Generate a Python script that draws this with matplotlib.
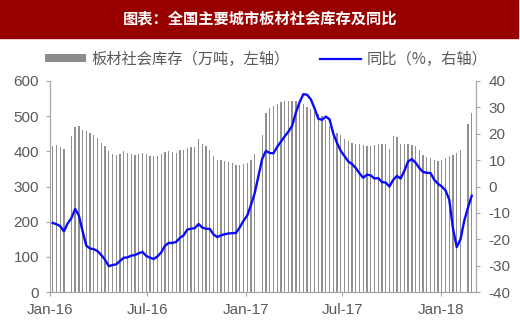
import numpy as np
import pandas as pd
import matplotlib
matplotlib.use('Agg')
import matplotlib.pyplot as plt
import matplotlib.dates as mdates
from matplotlib.patches import Patch, Rectangle
from matplotlib.lines import Line2D

plt.rcParams['font.family'] = ['Liberation Sans', 'Noto Sans CJK SC']
plt.rcParams['axes.unicode_minus'] = False

# tygodniowe dane, luki = brak notowan (swieta)
kucun = [416, 418, 411, 408, np.nan, 445, 470, 472, 462, 457,
         452, 446, 437, 424, 415, 402, 391, 390, 392, 401,
         394, 393, 390, 393, 395, 393, 388, 388, 388, 392,
         398, 401, 398, 394, 405, 404, 410, 411, 411, 434,
         422, 416, 403, 388, 375, 375, 372, 370, 367, 361,
         360, 363, 367, 376, 392, np.nan, 446, 509, 524, 530,
         536, 540, 542, 543, 542, 543, 540, 535, 527, 520,
         512, 505, 500, 488, 472, 462, 452, 446, 435, 428,
         424, 421, 420, 418, 416, 416, 418, 420, 420, 422,
         408, 443, 440, 422, 420, 420, 418, 415, 404, 390,
         385, 382, 375, 372, 376, 382, 386, 390, 394, 405,
         np.nan, 479, 510]

tongbi = [-13.8, -14.3, -15, -17, -14, -12, -8.5, -11, -17, -22.5,
          -23.5, -23.8, -24.5, -26, -27.8, -30.2, -29.8, -29.5, -28.2, -27,
          -26.9, -26.2, -26, -25.3, -24.8, -26.3, -27, -27.5, -26.5, -25,
          -22.5, -21.4, -21.4, -21, -19.5, -18.5, -16.3, -16, -15.8, -14.2,
          -15.6, -16, -16.1, -18.2, -19.2, -18.5, -18.1, -17.8, -17.7, -17.6,
          -15.5, -13, -11, -7, -2.5, 4, 10.5, 13.5, 12.7, 12.6,
          15, 17, 19, 20.8, 23, 28, 32, 35, 34.8, 33,
          29.6, 25.7, 25.3, 26.5, 25.5, 20, 16.5, 13.5, 11.5, 9.5,
          8.5, 7, 5, 3.3, 4.5, 4.2, 3, 3.2, 1.7, 1.5,
          0, 2.5, 4, 3, 6, 9.5, 10.4, 9, 7, 5.5,
          5.2, 5.1, 2.5, 1, 0, -1.5, -5, -16, -23, -20,
          -13, -8, -3.5]

daty = pd.date_range('2016-01-06', periods=len(kucun), freq='7D')

tytul = '图表：全国主要城市板材社会库存及同比'
opis_slupki = '板材社会库存（万吨，左轴）'
opis_linia = '同比（%，右轴）'

szary = '#a6a6a6'
tekst = '#595959'
niebieski = '#0a0aff'

fig = plt.figure(figsize=(5.2, 3.31), dpi=100)
fig.patches.append(Rectangle((0, 1 - 38/331), 0.996, 38/331, transform=fig.transFigure,
                             color='#990000', zorder=0))
fig.text(0.5, 1 - 19/331, tytul, color='white', fontsize=11, fontweight='bold',
         ha='center', va='center', family=['Noto Sans CJK SC'])

ax = fig.add_axes([50/520, 39/331, 426/520, 211/331])
k = np.array(kucun, dtype=float)
ok = ~np.isnan(k)
ax.bar(daty[ok], k[ok], width=2.4, color='#909090', zorder=1)
ax.set_ylim(0, 600)
ax.set_yticks(range(0, 601, 100))
ax.set_xlim(pd.Timestamp('2016-01-01'), pd.Timestamp('2018-03-08'))
ax.xaxis.set_major_locator(mdates.MonthLocator(bymonth=[1, 7]))
ax.xaxis.set_major_formatter(mdates.DateFormatter('%b-%y'))

ax2 = ax.twinx()
ax2.plot(daty, tongbi, color=niebieski, lw=1.7, zorder=3)
ax2.set_ylim(-40, 40)
ax2.set_yticks(range(-40, 41, 10))

for a in (ax, ax2):
    a.spines['top'].set_visible(False)
    for s in ('left', 'right', 'bottom'):
        a.spines[s].set_color(szary)
    a.tick_params(colors=szary, labelcolor=tekst, labelsize=11, length=3)
ax.tick_params(axis='y', pad=5)
ax.tick_params(axis='x', pad=5)
ax2.tick_params(axis='y', pad=6)

uchwyty = [Patch(facecolor='#8c8c8c', edgecolor='none'),
           Line2D([], [], color=niebieski, lw=1.6)]
fig.legend(uchwyty, [opis_slupki, opis_linia], loc='center', bbox_to_anchor=(0.512, 1 - 59/331),
           ncol=2, frameon=False, handlelength=2.7, handleheight=0.4, columnspacing=2.0,
           handletextpad=0.35, prop={'family': ['Noto Sans CJK SC'], 'size': 11},
           labelcolor=tekst)

plt.savefig('out.png', dpi=100)
